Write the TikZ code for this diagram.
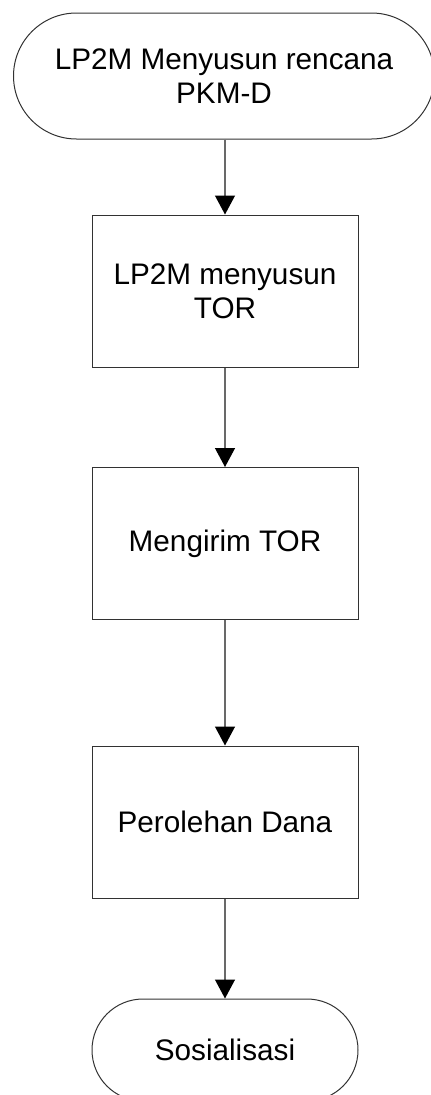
\documentclass[tikz,border=0pt]{standalone}
\usepackage{fontspec}
\setmainfont{Liberation Sans}
\usetikzlibrary{shapes.misc,arrows.meta}
\definecolor{linegray}{RGB}{105,105,105}
\definecolor{boxborder}{RGB}{50,50,50}
\tikzset{
  every node/.style={font=\fontsize{29.7}{34}\selectfont, align=center, inner sep=0pt},
  terminal/.style={draw=boxborder, line width=1pt, rounded rectangle, rounded rectangle arc length=180},
  procbox/.style={draw=boxborder, line width=1pt, rectangle, minimum width=266pt, minimum height=152pt},
  flow/.style={draw=linegray, line width=1.3pt, -{Triangle[width=20pt,length=19pt,fill=black,color=black]}}
}
\begin{document}
\begin{tikzpicture}[x=1pt,y=-1pt]
\useasboundingbox (0,0) rectangle (431,1095);
\node[terminal, minimum width=421pt, minimum height=126pt] (start) at (224,76) {LP2M Menyusun rencana\\PKM-D};
\node[procbox] (b1) at (225,291) {LP2M menyusun\\TOR};
\node[procbox] (b2) at (225,543.5) {Mengirim TOR};
\node[procbox] (b3) at (225,822) {Perolehan Dana};
\node[terminal, minimum width=266pt, minimum height=102pt] (end) at (225,1050) {Sosialisasi};
\draw[flow] (start.south -| b1.north) -- (b1.north);
\draw[flow] (b1.south) -- (b2.north);
\draw[flow] (b2.south) -- (b3.north);
\draw[flow] (b3.south) -- (end.north);
\end{tikzpicture}
\end{document}
